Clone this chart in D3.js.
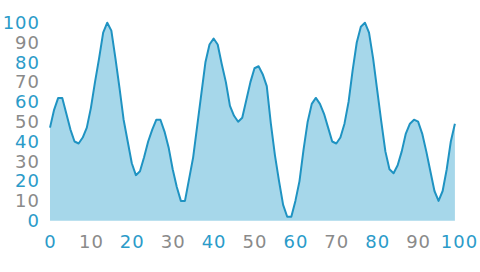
<!DOCTYPE html>
<html>
<head>
<meta charset="utf-8">
<script src="https://cdn.jsdelivr.net/npm/d3@7/dist/d3.min.js"></script>
<style>
  body { margin: 0; background: #fff; }
  svg text { font-family: 'DejaVu Sans', Verdana, sans-serif; }
</style>
</head>
<body>
<div id="plot"></div>
<script>
'use strict';

// values at x = 0, 1, 2 ... 99
const values = [
  47, 56, 62, 62, 54, 46, 40, 39, 42, 47,
  57, 70, 82, 95, 100, 96, 82, 67, 51, 40,
  29, 23, 25, 32, 40, 46, 51, 51, 45, 37,
  26, 17, 10, 10, 21, 32, 48, 64, 80, 89,
  92, 89, 79, 70, 58, 53, 50, 52, 61, 70,
  77, 78, 74, 68, 49, 33, 20, 8, 2, 2,
  10, 20, 36, 50, 59, 62, 59, 54, 47, 40,
  39, 42, 49, 60, 76, 90, 98, 100, 95, 82,
  66, 50, 35, 26, 24, 28, 35, 44, 49, 51,
  50, 44, 35, 25, 15, 10, 15, 26, 40, 49
]
const xTicks = [0, 10, 20, 30, 40, 50, 60, 70, 80, 90, 100]
const yTicks = [0, 10, 20, 30, 40, 50, 60, 70, 80, 90, 100]

let col = ['#a6d7ea', '#1f93c2', '#2b9bc9', '#8a8a8a']

let width = 480, height = 272;
let svg = d3.select('#plot').append('svg')
  .attr('width', width)
  .attr('height', height)

let x = d3.scaleLinear()
  .domain([0, 100])
  .range([50, 459]);
let y = d3.scaleLinear()
  .domain([0, 100])
  .range([220.7, 22.7]);

let area = d3.area()
  .x((d, i) => x(i))
  .y0(y(0))
  .y1(d => y(d));
let line = d3.line()
  .x((d, i) => x(i))
  .y(d => y(d));

svg.append('path')
  .attr('d', area(values))
  .attr('fill', col[0]);
svg.append('path')
  .attr('d', line(values))
  .attr('fill', 'none')
  .attr('stroke', col[1])
  .attr('stroke-width', 2)
  .attr('stroke-linejoin', 'round');

// tick labels alternate blue / gray
let tickColor = (d, i) => i % 2 == 0 ? col[2] : col[3];

let yAxis = d3.axisLeft(y).tickValues(yTicks).tickSize(0).tickPadding(0);
svg.append('g')
  .attr('transform', 'translate(40, 0)')
  .call(yAxis)
  .call(g => g.select('.domain').remove())
  .selectAll('text')
  .attr('font-size', '18px')
  .attr('letter-spacing', '1px')
  .attr('fill', tickColor);

let xAxis = d3.axisBottom(x).tickValues(xTicks).tickSize(0).tickPadding(0);
svg.append('g')
  .attr('transform', 'translate(0, 235)')
  .call(xAxis)
  .call(g => g.select('.domain').remove())
  .selectAll('text')
  .attr('font-size', '18px')
  .attr('letter-spacing', '1px')
  .attr('fill', tickColor);
</script>
</body>
</html>
